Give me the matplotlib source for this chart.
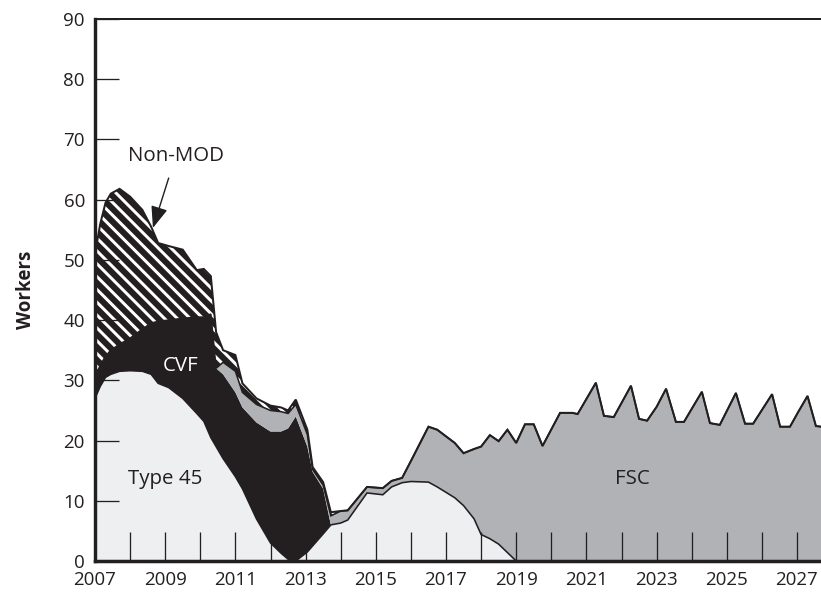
import numpy as np
import matplotlib
matplotlib.use("Agg")
import matplotlib.pyplot as plt

DPI = 77
PT = 72.0 / DPI  # points per pixel

plt.rcParams['font.family'] = ['Open Sans', 'DejaVu Sans']
plt.rcParams['hatch.linewidth'] = 3.0 * PT
plt.rcParams['hatch.color'] = 'white'

# ---------------- data (layer thickness, stacked bottom -> top) ----------------
years = [2007.0, 2007.15, 2007.3, 2007.45, 2007.7, 2008.0, 2008.35, 2008.6, 2008.8,
         2009.1, 2009.5, 2009.9, 2010.1, 2010.3, 2010.45, 2010.65, 2011.0, 2011.2,
         2011.6, 2012.0, 2012.3, 2012.5, 2012.72, 2013.05, 2013.2, 2013.5, 2013.72,
         2014.0, 2014.2, 2014.75, 2015.2, 2015.45, 2015.75, 2016.0, 2016.5, 2016.75,
         2017.25, 2017.5, 2017.8, 2018.0, 2018.25, 2018.5, 2018.75, 2019.0, 2019.25,
         2019.5, 2019.75, 2020.25, 2020.6, 2020.75, 2021.27, 2021.5, 2021.78, 2022.27,
         2022.5, 2022.73, 2023.0, 2023.27, 2023.55, 2023.78, 2024.29, 2024.52, 2024.8,
         2025.26, 2025.52, 2025.75, 2026.29, 2026.52, 2026.8, 2027.03, 2027.3, 2027.54,
         2027.7]

type45 = [27, 29, 30.5, 31, 31.5, 31.6, 31.5, 31, 29.5,
          28.8, 27, 24.5, 23.2, 20.5, 19, 17, 14, 12,
          7, 3, 1.3, 0.3, 0, 1.5, 2.5, 4.5, 6,
          6.3, 6.8, 11.3, 11, 12.3, 13, 13.2, 13.1, 12.3,
          10.5, 9.2, 7, 4.4, 3.7, 2.8, 1.4, 0, 0,
          0, 0, 0, 0, 0, 0, 0, 0, 0,
          0, 0, 0, 0, 0, 0, 0, 0, 0,
          0, 0, 0, 0, 0, 0, 0, 0, 0,
          0]

cvf = [3.5, 3.5, 3.5, 4, 4.5, 5.4, 7, 8.5, 10.3,
       11.2, 13.3, 16, 17.3, 20.5, 13, 14, 14, 13.5,
       16, 18.5, 20.2, 21.7, 24, 17.5, 12.3, 7.5, 0,
       0, 0, 0, 0, 0, 0, 0, 0, 0,
       0, 0, 0, 0, 0, 0, 0, 0, 0,
       0, 0, 0, 0, 0, 0, 0, 0, 0,
       0, 0, 0, 0, 0, 0, 0, 0, 0,
       0, 0, 0, 0, 0, 0, 0, 0, 0,
       0]

fsc = [0, 0, 0, 0, 0, 0, 0, 0, 0,
       0, 0, 0, 0, 0, 0, 2, 3.5, 2.5,
       3, 3.5, 3.3, 2.5, 2, 2, 0.4, 0.6, 1.5,
       2.0, 1.6, 1.0, 1.1, 1.0, 0.8, 3.4, 9.2, 9.5,
       9.1, 8.7, 11.6, 14.6, 17.2, 17.1, 20.4, 19.6, 22.7,
       22.7, 19.1, 24.6, 24.6, 24.4, 29.6, 24.1, 23.9, 29.1,
       23.6, 23.3, 25.6, 28.6, 23.1, 23.1, 28.1, 22.9, 22.6,
       27.9, 22.8, 22.8, 27.7, 22.3, 22.3, 24.7, 27.4, 22.4,
       22.3]

non_mod = [20.5, 23.5, 25.5, 26, 25.8, 23.5, 19.8, 16, 13,
           12.3, 11.4, 7.8, 8, 6.3, 6, 2, 2.7, 1.5,
           1, 0.8, 0.7, 0.5, 0.8, 0.8, 0.4, 0.5, 0.6,
           0, 0, 0, 0, 0, 0, 0, 0, 0,
           0, 0, 0, 0, 0, 0, 0, 0, 0,
           0, 0, 0, 0, 0, 0, 0, 0, 0,
           0, 0, 0, 0, 0, 0, 0, 0, 0,
           0, 0, 0, 0, 0, 0, 0, 0, 0,
           0]

x_ticks = list(range(2007, 2028))
x_labels = [str(y) if (y - 2007) % 2 == 0 else '' for y in x_ticks]
y_ticks = list(range(0, 91, 10))

# ---------------- colours ----------------
C_LIGHT = '#eeeff1'
C_BLACK = '#231f20'
C_GRAY = '#b1b2b5'

fig = plt.figure(figsize=(821 / DPI, 594 / DPI), dpi=DPI)
ax = fig.add_axes([95 / 821, 33 / 594, (821 - 95) / 821, (561 - 19) / 594])

x = np.array(years)
b1 = np.array(type45, dtype=float)
b2 = b1 + np.array(cvf)
b3 = b2 + np.array(fsc)
b4 = b3 + np.array(non_mod)

ax.fill_between(x, 0, b1, facecolor=C_LIGHT, linewidth=0, zorder=1)
ax.fill_between(x, b1, b2, facecolor=C_BLACK, linewidth=0, zorder=1)
ax.fill_between(x, b2, b3, facecolor=C_GRAY, linewidth=0, zorder=1)
ax.fill_between(x, b3, b4, facecolor=C_BLACK, edgecolor='white', linewidth=0,
                hatch='\\\\', zorder=1)

# outlines
ax.plot(x, b1, color=C_BLACK, lw=1.6 * PT, zorder=2, solid_joinstyle='miter')
ax.plot(x, b3, color=C_BLACK, lw=1.6 * PT, zorder=2, solid_joinstyle='miter')
ax.plot(x, b4, color=C_BLACK, lw=2.0 * PT, zorder=2, solid_joinstyle='miter')

ax.set_xlim(2007, 2007 + (821 - 95) / 35.1)
ax.set_ylim(0, 90)

ax.set_xticks(x_ticks)
ax.set_xticklabels(x_labels)
ax.set_yticks(y_ticks)

fs = 18.8 * PT
fs_in = 20.5 * PT
ax.tick_params(axis='x', direction='in', length=29 * PT, width=1.3 * PT,
               color=C_BLACK, labelsize=fs, labelcolor=C_BLACK, pad=10 * PT)
ax.tick_params(axis='y', direction='in', length=24 * PT, width=1.3 * PT,
               color=C_BLACK, labelsize=fs, labelcolor=C_BLACK, pad=10 * PT)
for t in ax.xaxis.get_major_ticks() + ax.yaxis.get_major_ticks():
    t.tick1line.set_zorder(3)

ax.spines['right'].set_visible(False)
ax.spines['left'].set_linewidth(3.4 * PT)
ax.spines['bottom'].set_linewidth(3.5 * PT)
ax.spines['top'].set_linewidth(2.0 * PT)
for s in ('left', 'bottom', 'top'):
    ax.spines[s].set_color(C_BLACK)
    ax.spines[s].set_zorder(4)

ax.set_ylabel('Workers', fontsize=fs, fontweight='bold', color=C_BLACK)
ax.yaxis.label.set_va('center')
ax.yaxis.set_label_coords(-(95 - 26) / (821 - 95), 0.5)

ax.text(2009.0, 13.6, 'Type 45', fontsize=fs_in, color=C_BLACK, ha='center', va='center', zorder=5)
ax.text(2022.3, 13.6, 'FSC', fontsize=fs_in, color=C_BLACK, ha='center', va='center', zorder=5)
ax.text(2009.45, 32.4, 'CVF', fontsize=fs_in, color='white', ha='center', va='center', zorder=5)
ax.annotate('Non-MOD', xy=(2008.65, 55.3), xytext=(2009.3, 67.3),
            fontsize=fs_in, color=C_BLACK, ha='center', va='center', zorder=5,
            arrowprops=dict(arrowstyle='-|>,head_length=0.9,head_width=0.35',
                            color=C_BLACK, lw=1.4 * PT, shrinkA=10, shrinkB=0))

fig.savefig('out.png', dpi=DPI)
